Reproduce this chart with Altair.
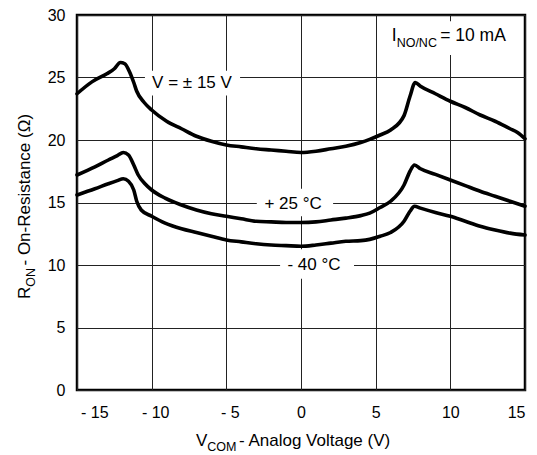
import altair as alt
import pandas as pd

# ---- data ----
X_15V = [-15, -14, -13, -12.5, -12.1, -11.8, -11.5, -11.2, -11.0, -10.5, -10.0, -9.0, -8.0, -7.0,
         -6.0, -5.0, -4.0, -3.0, -2.0, -1.0, 0, 1, 2, 3, 4, 4.6, 5.3, 6.0, 6.9, 7.3, 7.65, 8.0,
         9, 10, 11, 12, 13, 14, 14.5, 15]
Y_15V = [23.7, 24.65, 25.3, 25.7, 26.2, 26.1, 25.5, 24.6, 23.9, 23.0, 22.4, 21.5, 20.9, 20.3,
         19.9, 19.6, 19.45, 19.3, 19.2, 19.1, 19.0, 19.1, 19.3, 19.5, 19.8, 20.05, 20.4, 20.8,
         21.95, 23.5, 24.6, 24.3, 23.7, 23.1, 22.6, 22.0, 21.5, 20.9, 20.6, 20.1]

X_25C = [-15, -13.8, -12.9, -12.3, -11.9, -11.55, -11.2, -10.9, -10.45, -10.0, -9.1, -8.0, -7.0,
         -6.0, -5.0, -4.0, -3.0, -2.0, -1.0, 0, 1, 2, 3, 4, 4.6, 5.3, 6.0, 6.9, 7.3, 7.6, 8.0,
         9, 10, 11, 12, 13, 14, 15]
Y_25C = [17.2, 17.85, 18.4, 18.75, 19.0, 18.8, 18.0, 17.2, 16.5, 16.0, 15.35, 14.8, 14.4,
         14.1, 13.9, 13.7, 13.5, 13.45, 13.4, 13.4, 13.45, 13.6, 13.75, 13.95, 14.15, 14.6, 15.1,
         16.4, 17.5, 18.0, 17.7, 17.25, 16.8, 16.35, 15.9, 15.5, 15.1, 14.7]

X_M40C = [-15, -13.8, -12.9, -12.3, -11.9, -11.55, -11.2, -11.0, -10.7, -10.0, -9.1, -8.0, -7.0,
          -6.0, -5.0, -4.0, -3.0, -2.0, -1.0, 0, 1, 2, 3, 4, 4.6, 5.3, 6.0, 6.9, 7.3, 7.6, 8.0,
          9, 10, 11, 12, 13, 14, 15]
Y_M40C = [15.6, 16.1, 16.5, 16.75, 16.9, 16.7, 16.0, 15.1, 14.4, 13.9, 13.35, 12.9, 12.6,
          12.3, 12.0, 11.85, 11.7, 11.6, 11.55, 11.5, 11.6, 11.75, 11.9, 11.95, 12.05, 12.3, 12.6,
          13.5, 14.3, 14.7, 14.55, 14.2, 13.9, 13.5, 13.1, 12.8, 12.55, 12.4]

SERIES = ["V = ± 15 V", "+ 25 °C", "- 40 °C"]

# curve labels (text, x, y) in data units
LABEL_TEXT = ["V = ± 15 V", "+ 25 °C", "- 40 °C"]
LABEL_X = [-7.3, -0.53, 0.87]
LABEL_Y = [24.6, 14.87, 9.98]
# white boxes behind the labels (data units)
BOX_X1 = [-10.45, -2.96, -1.40, 5.83]
BOX_X2 = [-4.08, 2.15, 3.55, 14.47]
BOX_Y1 = [23.57, 13.9, 8.9, 26.8]
BOX_Y2 = [25.55, 16.1, 11.27, 29.5]

# condition annotation pieces
COND_PARTS = ["I", "NO/NC", " = 10 mA"]
COND_X = 6.07
COND_Y = 27.91

X_TITLE_PARTS = ["V", "COM", " - Analog Voltage (V)"]
Y_TITLE_PARTS = ["R", "ON", " - On-Resistance (Ω)"]

X_TICKS = [-15, -10, -5, 0, 5, 10, 15]
Y_TICKS = [0, 5, 10, 15, 20, 25, 30]

FONT = "Liberation Sans"
W, H = 448, 375

rows = []
for name, xs, ys in [(SERIES[0], X_15V, Y_15V), (SERIES[1], X_25C, Y_25C), (SERIES[2], X_M40C, Y_M40C)]:
    for i, (a, b) in enumerate(zip(xs, ys)):
        rows.append({"series": name, "v": a, "r": b, "o": i})
df = pd.DataFrame(rows)

xscale = alt.Scale(domain=[-15, 15], nice=False, zero=False)
yscale = alt.Scale(domain=[0, 30], nice=False, zero=False)

xaxis = alt.Axis(values=X_TICKS, grid=True, domain=False, ticks=False, title=None,
                 labelFont=FONT, labelFontSize=16, labelColor="black", labelPadding=14,
                 gridColor="#222", gridWidth=1,
                 labelOffset={"condition": {"test": "datum.value < 0", "value": 3.5}, "value": 0},
                 labelExpr="datum.value < 0 ? '- ' + abs(datum.value) : datum.label")
yaxis = alt.Axis(values=Y_TICKS, grid=True, domain=False, ticks=False, title=None,
                 labelFont=FONT, labelFontSize=16, labelColor="black", labelPadding=12,
                 gridColor="#222", gridWidth=1)

boxes = alt.Chart(pd.DataFrame({"x1": BOX_X1, "x2": BOX_X2, "y1": BOX_Y1, "y2": BOX_Y2})).mark_rect(
    color="white").encode(
    x=alt.X("x1:Q", scale=xscale, axis=xaxis),
    x2="x2:Q",
    y=alt.Y("y1:Q", scale=yscale, axis=yaxis),
    y2="y2:Q",
)

lines = alt.Chart(df).mark_line(color="black", strokeWidth=3.6, interpolate="monotone",
                                strokeJoin="round", strokeCap="round").encode(
    x=alt.X("v:Q", scale=xscale),
    y=alt.Y("r:Q", scale=yscale),
    detail="series:N",
    order="o:Q",
)

labels = alt.Chart(pd.DataFrame({"t": LABEL_TEXT, "x": LABEL_X, "y": LABEL_Y})).mark_text(
    font=FONT, fontSize=17, color="black", align="center", baseline="middle").encode(
    x=alt.X("x:Q", scale=xscale), y=alt.Y("y:Q", scale=yscale), text="t:N")

cond_df = pd.DataFrame({"t": COND_PARTS, "x": [COND_X] * 3, "y": [COND_Y] * 3})
cond = []
for i, (dx, dy, fs) in enumerate([(0, 0, 17.5), (5.0, 5.5, 12.5), (48.5, 0, 17.5)]):
    cond.append(alt.Chart(cond_df.iloc[[i]]).mark_text(
        font=FONT, fontSize=fs, color="black", align="left", baseline="alphabetic", dx=dx, dy=dy).encode(
        x=alt.X("x:Q", scale=xscale), y=alt.Y("y:Q", scale=yscale), text="t:N"))

xt_df = pd.DataFrame({"t": X_TITLE_PARTS})
xt = []
for i, (dx, dy, fs) in enumerate([(0, 0, 17), (11.3, 5, 12.5), (43.0, 0, 17)]):
    xt.append(alt.Chart(xt_df.iloc[[i]]).mark_text(
        font=FONT, fontSize=fs, color="black", align="left", baseline="alphabetic", dx=dx, dy=dy).encode(
        x=alt.value(119), y=alt.value(H + 55.5), text="t:N"))

yt_df = pd.DataFrame({"t": Y_TITLE_PARTS})
yt = []
for i, (dx, dy, fs) in enumerate([(0, 0, 17), (12.3, 5, 12.5), (33.5, 0, 17)]):
    yt.append(alt.Chart(yt_df.iloc[[i]]).mark_text(
        font=FONT, fontSize=fs, color="black", align="left", baseline="alphabetic", angle=270,
        dx=dx, dy=dy).encode(
        x=alt.value(-47), y=alt.value(284), text="t:N"))

chart = alt.layer(boxes, lines, labels, *cond, *xt, *yt).properties(
    width=W, height=H,
    autosize=alt.AutoSizeParams(type="none"),
    padding={"left": 69, "top": 7, "right": 4, "bottom": 64},
    background="white",
).configure_view(stroke="black", strokeWidth=2.5)

chart.save("out.html", embed_options={"renderer": "svg", "actions": False})
